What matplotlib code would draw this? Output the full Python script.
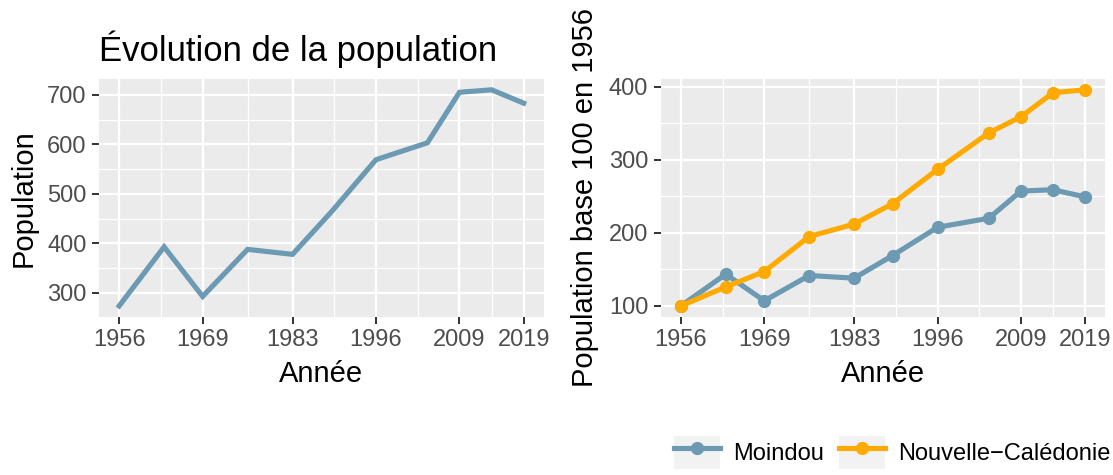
import matplotlib
matplotlib.use('Agg')
import matplotlib.pyplot as plt
from matplotlib.lines import Line2D
from matplotlib.patches import Rectangle
from matplotlib.legend_handler import HandlerLine2D
from matplotlib.ticker import FixedLocator

plt.rcParams['font.family'] = ['Liberation Sans', 'DejaVu Sans']

# census years and values
years = [1956, 1963, 1969, 1976, 1983, 1989, 1996, 2004, 2009, 2014, 2019]
moindou_pop = [274, 393, 293, 388, 378, 463, 569, 603, 705, 710, 683]
nc_index = [100, 126, 147, 195, 212, 240, 287, 337, 359, 392, 396]
x_breaks = [1956, 1969, 1983, 1996, 2009, 2019]
left_y_breaks = [300, 400, 500, 600, 700]
right_y_breaks = [100, 200, 300, 400]
series_names = ['Moindou', 'Nouvelle\u2212Calédonie']

moindou_index = [100 * p / moindou_pop[0] for p in moindou_pop]

blue = '#6C9AB2'
orange = '#FFAA00'
panel_bg = '#EBEBEB'
tick_col = '#4D4D4D'


def mids(vals):
    return [(a + b) / 2 for a, b in zip(vals[:-1], vals[1:])]


def gg_axes(ax, xb, yb):
    ax.set_facecolor(panel_bg)
    for s in ax.spines.values():
        s.set_visible(False)
    ax.margins(0.05)
    ax.set_xticks(xb)
    ax.set_yticks(yb)
    lo, hi = ax.get_ylim()
    step = yb[1] - yb[0]
    ymin = [v for v in mids([yb[0] - step] + yb + [yb[-1] + step]) if lo <= v <= hi]
    ax.xaxis.set_minor_locator(FixedLocator(mids(xb)))
    ax.yaxis.set_minor_locator(FixedLocator(ymin))
    ax.grid(which='major', color='white', lw=1.6)
    ax.grid(which='minor', color='white', lw=0.9)
    ax.set_axisbelow(True)
    ax.tick_params(which='major', length=5, width=1.4, color='#333333',
                   labelsize=17, labelcolor=tick_col, pad=4)
    ax.tick_params(which='minor', length=0)
    ax.set_xlabel('Année', fontsize=21, labelpad=6)


fig = plt.figure(figsize=(11.13, 4.75), dpi=100)
ax1 = fig.add_axes([0.0889, 0.3333, 0.3998, 0.5004])
ax2 = fig.add_axes([0.5936, 0.3333, 0.3995, 0.5004])

ax1.plot(years, moindou_pop, color=blue, lw=3.7, solid_joinstyle='miter')
gg_axes(ax1, x_breaks, left_y_breaks)
ax1.set_ylabel('Population', fontsize=21, labelpad=7)
ax1.set_title('Évolution de la population', loc='left', fontsize=25, pad=13)

ax2.plot(years, moindou_index, color=blue, lw=3.7, marker='o', ms=8.5)
ax2.plot(years, nc_index, color=orange, lw=3.7, marker='o', ms=8.5)
gg_axes(ax2, x_breaks, right_y_breaks)
ax2.set_ylabel('Population base 100 en 1956', fontsize=21, labelpad=7)


class KeyHandler(HandlerLine2D):
    def create_artists(self, legend, orig_handle, xdescent, ydescent,
                       width, height, fontsize, trans):
        bg = Rectangle((-xdescent, -ydescent), width, height,
                       facecolor='#F2F2F2', edgecolor='none', transform=trans)
        arts = super().create_artists(legend, orig_handle, xdescent, ydescent,
                                      width, height, fontsize, trans)
        return [bg] + list(arts)


handles = [Line2D([], [], color=c, lw=3.7, marker='o', ms=8.5) for c in (blue, orange)]
fig.legend(handles, series_names, loc='center right',
           bbox_to_anchor=(1111 / 1113, 1 - 452.5 / 475), ncol=2,
           frameon=False, fontsize=17, handlelength=1.95, handleheight=1.82,
           handletextpad=0.56, columnspacing=0.65, borderpad=0, borderaxespad=0,
           numpoints=1, handler_map={Line2D: KeyHandler()})

fig.savefig('out.png', dpi=100)
